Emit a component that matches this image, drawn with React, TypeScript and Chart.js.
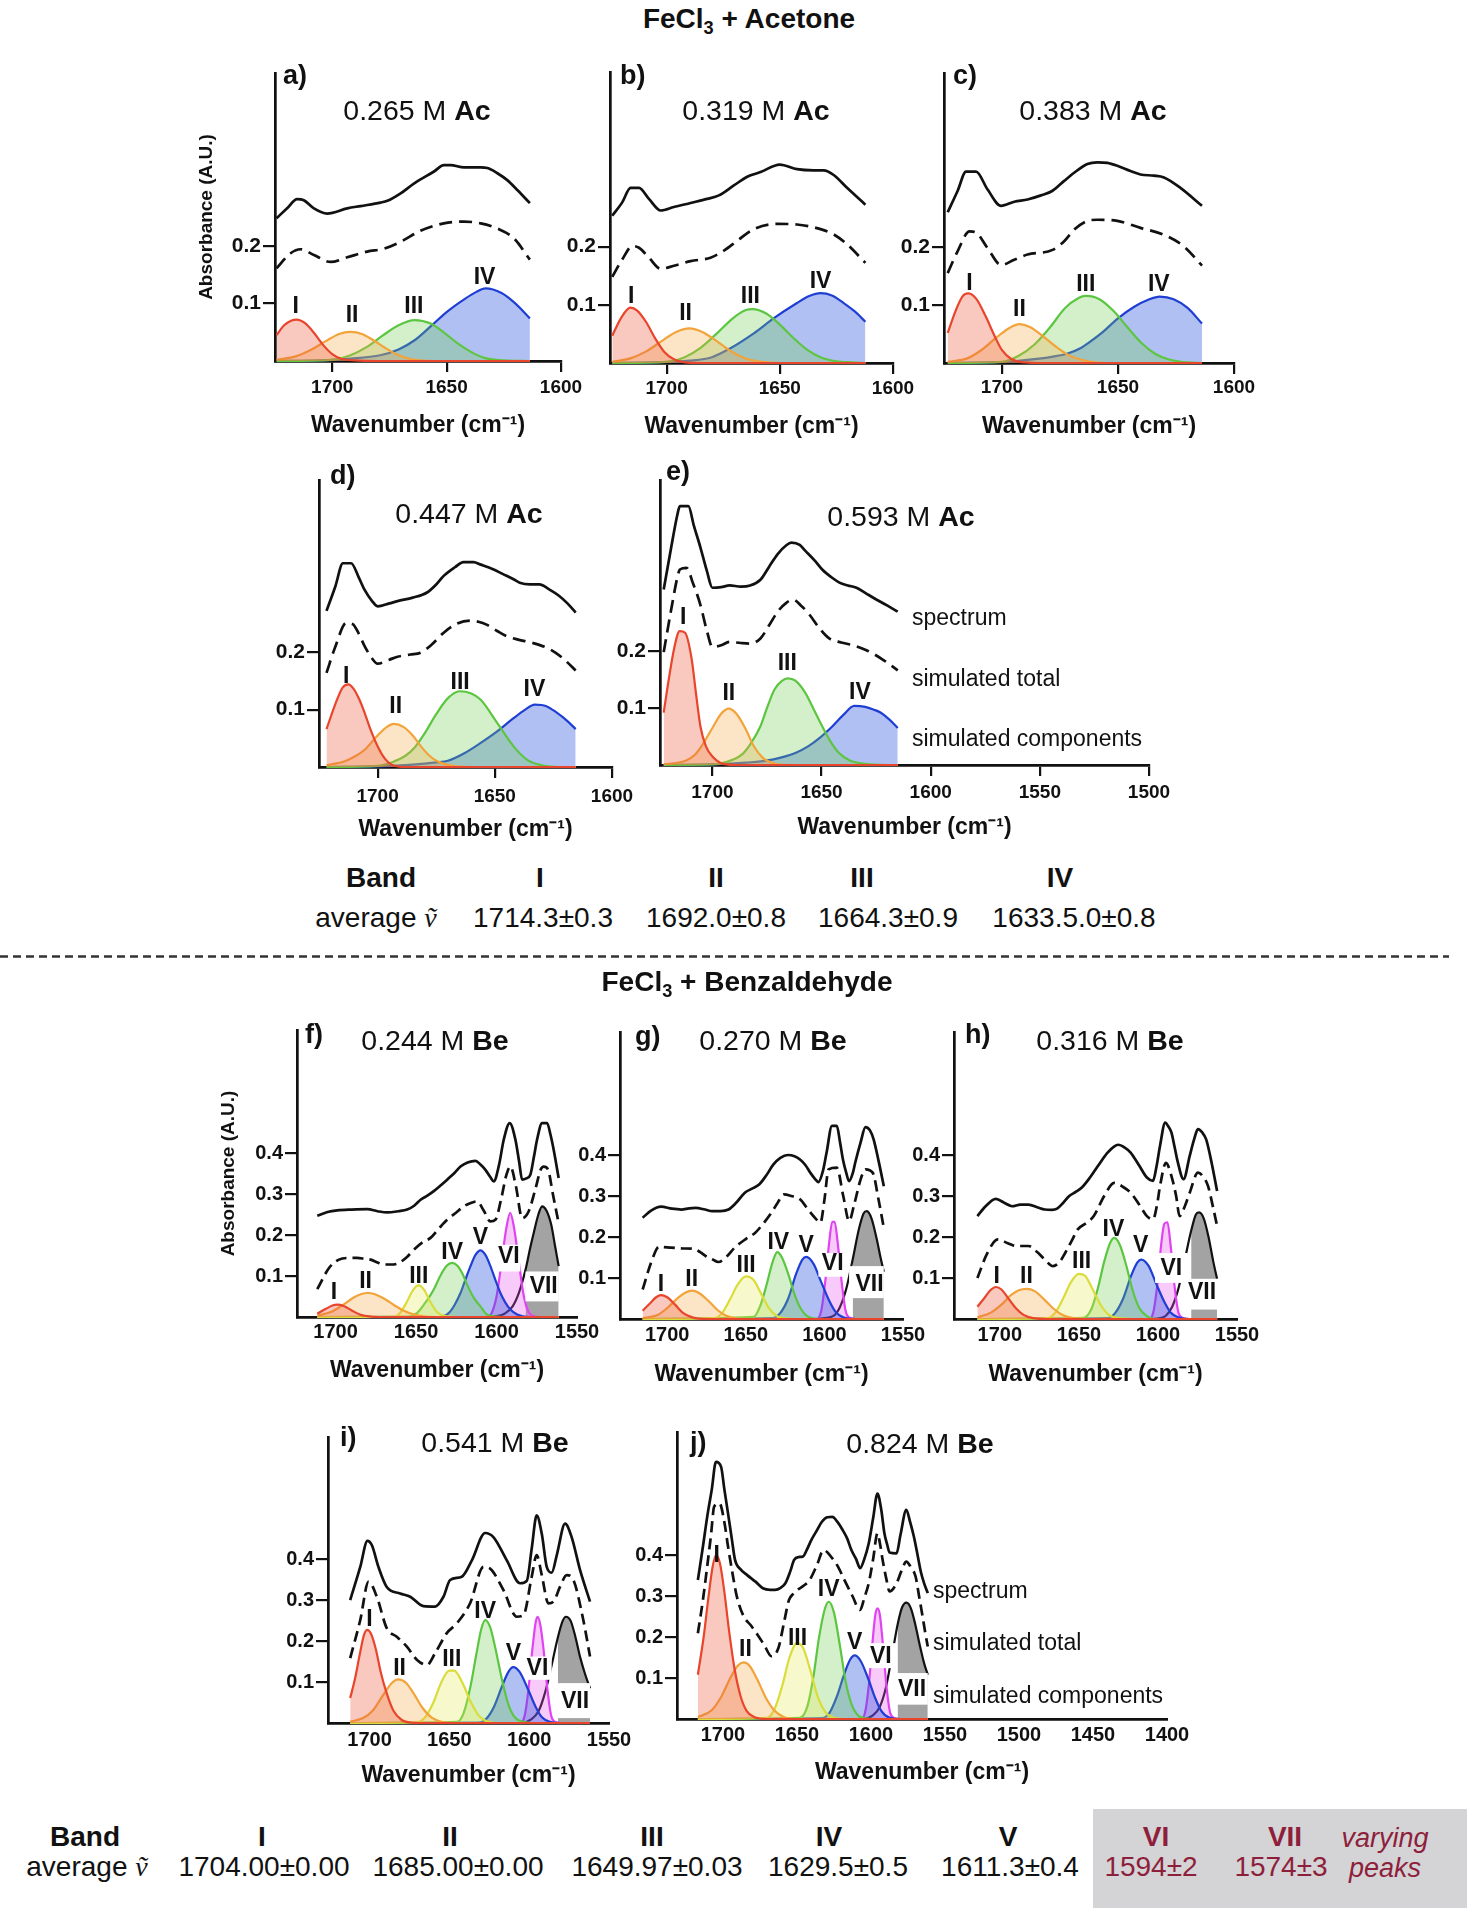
import React, { useEffect, useRef } from "react";
import { Chart, registerables } from "chart.js";

Chart.register(...registerables);

type Pt = [number, number];
type Lbl = [string, number, number, number?, number?, number?, number?];

const FONT = '"Liberation Sans", Arial, Helvetica, sans-serif';

// ---------------- tick values ----------------
const acXTicks = [1700, 1650, 1600];
const eXTicks = [1700, 1650, 1600, 1550, 1500];
const beXTicks = [1700, 1650, 1600, 1550];
const jXTicks = [1700, 1650, 1600, 1550, 1500, 1450, 1400];
const acYTicks = [0.1, 0.2];
const beYTicks = [0.1, 0.2, 0.3, 0.4];

// ---------------- panel a : 0.265 M Ac ----------------
const aSpectrum: Pt[] = [[1724.3,0.248],[1719.7,0.265],[1715.3,0.281],[1712.4,0.279],[1708,0.265],[1702.2,0.256],[1693.4,0.265],[1687.6,0.269],[1678.9,0.275],[1675.9,0.278],[1670.1,0.291],[1664.3,0.308],[1655.5,0.329],[1651.2,0.34],[1648.3,0.34],[1642.4,0.336],[1635.1,0.336],[1632.2,0.335],[1627.8,0.326],[1623.5,0.314],[1619.1,0.297],[1613.6,0.274]];
const aTotal: Pt[] = [[1724.3,0.161],[1718.2,0.187],[1713.8,0.194],[1708,0.184],[1700.7,0.172],[1693.4,0.18],[1684.7,0.19],[1677.4,0.195],[1670.1,0.207],[1661.4,0.226],[1651.2,0.239],[1642.4,0.242],[1635.1,0.239],[1627.8,0.23],[1620.6,0.213],[1613.6,0.176]];
const aI: Pt[] = [[1724.3,0.045],[1721,0.062],[1718,0.07],[1715.5,0.072],[1712,0.066],[1708,0.049],[1704,0.028],[1700,0.012],[1696,0.004],[1690,0.001],[1680,0],[1613.6,0]];
const aII: Pt[] = [[1724.3,0.002],[1716,0.008],[1709,0.02],[1703,0.034],[1697,0.047],[1692,0.0505],[1687,0.047],[1682,0.036],[1677,0.023],[1671,0.01],[1665,0.003],[1655,0],[1613.6,0]];
const aIII: Pt[] = [[1724.3,0],[1700,0.002],[1692,0.01],[1685,0.024],[1678,0.044],[1671,0.062],[1664,0.071],[1657,0.065],[1651,0.049],[1645,0.03],[1639,0.015],[1633,0.005],[1625,0.001],[1613.6,0]];
const aIV: Pt[] = [[1724.3,0],[1705,0.001],[1692,0.004],[1679,0.01],[1671,0.02],[1664,0.036],[1657,0.06],[1650,0.085],[1642,0.108],[1637,0.12],[1633,0.126],[1626,0.118],[1620,0.1],[1613.6,0.074]];
const aLabels: Lbl[] = [["I",1716,0.094],["II",1691.3,0.079],["III",1664.3,0.094],["IV",1633.4,0.145]];

// ---------------- panel b : 0.319 M Ac ----------------
const bSpectrum: Pt[] = [[1724,0.253],[1719.6,0.276],[1715.9,0.301],[1712.2,0.301],[1707.8,0.282],[1702.6,0.262],[1696.8,0.268],[1689.4,0.275],[1682.1,0.282],[1676.9,0.288],[1670.3,0.305],[1664.4,0.32],[1658.5,0.328],[1650,0.341],[1642.4,0.333],[1635,0.331],[1630.6,0.331],[1626.2,0.323],[1620.3,0.301],[1612.2,0.272]];
const bTotal: Pt[] = [[1724,0.148],[1719.6,0.178],[1715.1,0.201],[1712.2,0.198],[1707.8,0.181],[1702.6,0.162],[1696.8,0.167],[1689.4,0.175],[1680.6,0.181],[1674.7,0.193],[1668.8,0.21],[1661.5,0.23],[1651.2,0.239],[1642.4,0.238],[1632,0.23],[1626.2,0.221],[1620.3,0.204],[1612.2,0.172]];
const bI: Pt[] = [[1724,0.047],[1720,0.078],[1716,0.095],[1713,0.09],[1709,0.07],[1705,0.042],[1701,0.019],[1697,0.007],[1692,0.001],[1685,0],[1612.2,0]];
const bII: Pt[] = [[1724,0.002],[1716,0.008],[1709,0.02],[1702,0.038],[1696,0.053],[1690,0.0595],[1684,0.053],[1678,0.038],[1672,0.021],[1666,0.009],[1658,0.002],[1650,0],[1612.2,0]];
const bIII: Pt[] = [[1724,0],[1700,0.002],[1692,0.01],[1685,0.026],[1678,0.05],[1671,0.076],[1665,0.091],[1662,0.0925],[1656,0.085],[1650,0.066],[1644,0.043],[1638,0.023],[1632,0.01],[1625,0.003],[1618,0.001],[1612.2,0]];
const bIV: Pt[] = [[1724,0],[1705,0.001],[1690,0.004],[1680,0.01],[1672,0.025],[1661.5,0.051],[1652.6,0.077],[1642.4,0.103],[1637,0.115],[1632,0.12],[1627,0.116],[1621.8,0.103],[1617,0.089],[1612.2,0.071]];
const bLabels: Lbl[] = [["I",1715.6,0.1145],["II",1691.6,0.0855],["III",1663,0.1145],["IV",1632,0.1405]];

// ---------------- panel c : 0.383 M Ac ----------------
const cSpectrum: Pt[] = [[1723.4,0.26],[1719.1,0.297],[1715.5,0.33],[1711.2,0.33],[1706.2,0.299],[1700.4,0.271],[1694.7,0.278],[1689,0.282],[1683.2,0.289],[1678.2,0.297],[1673.2,0.314],[1668.9,0.328],[1663.2,0.343],[1658.9,0.346],[1654.6,0.345],[1650.3,0.34],[1644.6,0.331],[1640.3,0.325],[1634.5,0.323],[1630.2,0.32],[1623.1,0.302],[1613.8,0.271]];
const cTotal: Pt[] = [[1723.4,0.155],[1719.1,0.193],[1714,0.227],[1711.2,0.225],[1706.2,0.198],[1700.4,0.169],[1694.7,0.178],[1689,0.187],[1678.2,0.195],[1673.2,0.21],[1668.9,0.23],[1663.2,0.245],[1658.9,0.247],[1650.3,0.245],[1640.3,0.233],[1630.2,0.221],[1621.6,0.201],[1613.8,0.168]];
const cI: Pt[] = [[1723.4,0.052],[1720,0.09],[1717,0.115],[1714.5,0.12],[1711,0.11],[1707,0.08],[1703,0.045],[1700,0.022],[1696,0.007],[1690,0.001],[1683,0],[1613.8,0]];
const cII: Pt[] = [[1723.4,0.002],[1715,0.008],[1709,0.022],[1703,0.042],[1697,0.06],[1692.5,0.067],[1688,0.062],[1682,0.045],[1676,0.026],[1670,0.011],[1663,0.003],[1655,0],[1613.8,0]];
const cIII: Pt[] = [[1723.4,0],[1700,0.002],[1693,0.012],[1686,0.032],[1679,0.063],[1673,0.094],[1667,0.112],[1664,0.1156],[1658,0.11],[1652,0.09],[1646,0.062],[1640,0.035],[1634,0.016],[1628,0.006],[1620,0.001],[1613.8,0]];
const cIV: Pt[] = [[1723.4,0],[1705,0.001],[1695,0.003],[1685,0.007],[1678,0.011],[1672,0.016],[1666,0.026],[1663,0.034],[1657,0.052],[1650,0.077],[1643,0.097],[1637,0.109],[1632,0.1145],[1626,0.11],[1620,0.095],[1613.8,0.068]];
const cLabels: Lbl[] = [["I",1714,0.1376],["II",1692.5,0.0913],["III",1663.9,0.1347],["IV",1632.4,0.1347]];

// ---------------- panel d : 0.447 M Ac ----------------
const dSpectrum: Pt[] = [[1721.8,0.272],[1718,0.315],[1714.8,0.355],[1711.3,0.355],[1708,0.33],[1705.6,0.309],[1702.5,0.29],[1700,0.28],[1695,0.285],[1691.5,0.289],[1685,0.295],[1678.9,0.304],[1675,0.318],[1671.8,0.333],[1667,0.348],[1663.4,0.357],[1659,0.357],[1656.3,0.353],[1651,0.345],[1646.5,0.336],[1642,0.327],[1639.4,0.321],[1635,0.318],[1631,0.318],[1627,0.31],[1622.5,0.298],[1619,0.285],[1615.5,0.269]];
const dTotal: Pt[] = [[1721.8,0.164],[1718,0.21],[1713.4,0.251],[1710.6,0.249],[1708,0.232],[1705.6,0.211],[1702.5,0.19],[1700,0.18],[1695,0.187],[1691.5,0.192],[1686,0.196],[1681.7,0.199],[1677,0.213],[1671.8,0.234],[1666,0.25],[1660.6,0.255],[1657,0.253],[1653.5,0.248],[1649,0.237],[1645,0.228],[1640,0.222],[1633.8,0.216],[1628,0.208],[1624,0.199],[1620,0.186],[1615.5,0.168]];
const dI: Pt[] = [[1721.8,0.066],[1718,0.11],[1715,0.138],[1712.5,0.144],[1710,0.135],[1707.5,0.115],[1705.5,0.094],[1703,0.065],[1700,0.036],[1697,0.015],[1694,0.004],[1688,0],[1615.5,0]];
const dII: Pt[] = [[1721.8,0.003],[1714,0.01],[1709,0.02],[1705.5,0.03],[1700,0.055],[1696,0.07],[1693,0.075],[1689,0.07],[1685,0.055],[1681.5,0.036],[1678,0.02],[1674.5,0.01],[1668,0.002],[1660,0],[1615.5,0]];
const dIII: Pt[] = [[1721.8,0],[1700,0.002],[1694,0.008],[1688,0.02],[1684,0.035],[1680,0.058],[1675,0.092],[1670,0.12],[1665,0.132],[1660,0.128],[1656,0.117],[1649,0.077],[1642,0.036],[1636,0.012],[1630,0.003],[1622,0],[1615.5,0]];
const dIV: Pt[] = [[1721.8,0],[1700,0.001],[1685,0.004],[1675,0.008],[1670,0.011],[1663,0.024],[1656,0.042],[1649,0.062],[1642,0.085],[1637,0.1],[1633,0.1087],[1628,0.106],[1624,0.096],[1619,0.08],[1615.5,0.066]];
const dLabels: Lbl[] = [["I",1713.4,0.158],["II",1692.3,0.1058],["III",1664.8,0.1465],["IV",1633.1,0.135]];

// ---------------- panel e : 0.593 M Ac ----------------
const eSpectrum: Pt[] = [[1722.3,0.308],[1718.9,0.381],[1716,0.44],[1714.9,0.454],[1711,0.454],[1708.5,0.42],[1705.5,0.382],[1702.5,0.34],[1700,0.311],[1696,0.312],[1692.1,0.315],[1687,0.313],[1682.7,0.315],[1678,0.325],[1674,0.348],[1670.1,0.37],[1666,0.386],[1663.8,0.39],[1660,0.386],[1657.5,0.376],[1653,0.358],[1649.7,0.343],[1645,0.328],[1641.8,0.32],[1638,0.315],[1634,0.311],[1630,0.302],[1626.1,0.293],[1620,0.28],[1615.1,0.269]];
const eTotal: Pt[] = [[1722.3,0.198],[1719,0.27],[1716,0.33],[1714.9,0.343],[1711.8,0.346],[1709,0.32],[1705.5,0.281],[1702.5,0.235],[1700,0.207],[1696,0.21],[1692.1,0.216],[1687,0.214],[1682.7,0.213],[1678,0.222],[1674,0.245],[1670.1,0.269],[1666,0.285],[1663,0.29],[1659.5,0.28],[1656,0.266],[1651,0.24],[1646.5,0.222],[1641,0.215],[1635.5,0.21],[1629.2,0.201],[1622,0.185],[1615.1,0.166]];
const eI: Pt[] = [[1722.3,0.092],[1720,0.15],[1717.5,0.205],[1715,0.235],[1712.5,0.232],[1709.5,0.186],[1707.5,0.125],[1705.5,0.068],[1703,0.033],[1700,0.015],[1695,0.002],[1688,0],[1615.1,0]];
const eII: Pt[] = [[1722.3,0.001],[1712,0.008],[1708,0.018],[1705.5,0.03],[1700,0.065],[1696,0.09],[1692.5,0.099],[1689,0.09],[1685,0.065],[1681,0.033],[1677,0.013],[1672,0.003],[1665,0],[1615.1,0]];
const eIII: Pt[] = [[1722.3,0],[1700,0.001],[1693,0.006],[1686,0.02],[1682,0.04],[1678,0.068],[1675,0.1],[1671.5,0.133],[1668,0.148],[1665.5,0.152],[1662,0.148],[1657.5,0.127],[1653.5,0.097],[1649.7,0.068],[1646,0.042],[1642,0.021],[1637,0.008],[1630,0.002],[1620,0],[1615.1,0]];
const eIV: Pt[] = [[1722.3,0],[1700,0.001],[1685,0.004],[1672,0.01],[1662,0.021],[1656,0.033],[1651,0.047],[1645,0.068],[1640,0.088],[1635,0.1036],[1630,0.102],[1626,0.097],[1623,0.092],[1619,0.08],[1615.1,0.065]];
const eLabels: Lbl[] = [["I",1713.4,0.2586],["II",1692.5,0.1243],["III",1665.7,0.1775],["IV",1632.4,0.127]];

// ---------------- panel f : 0.244 M Be ----------------
const fSpectrum: Pt[] = [[1711.4,0.247],[1705,0.256],[1699,0.26],[1690,0.262],[1680.3,0.263],[1674,0.258],[1668,0.255],[1661,0.258],[1655.5,0.262],[1651,0.272],[1647.2,0.286],[1643,0.296],[1639,0.307],[1635,0.32],[1630.7,0.335],[1626,0.352],[1622.4,0.367],[1618,0.377],[1613.1,0.381],[1610,0.372],[1606.9,0.359],[1604,0.342],[1601.7,0.331],[1598.5,0.37],[1595.5,0.433],[1591.8,0.473],[1588.3,0.433],[1586,0.38],[1584.1,0.335],[1581.5,0.338],[1579,0.347],[1576.8,0.39],[1574.8,0.433],[1571.7,0.473],[1568.6,0.473],[1566.5,0.445],[1564.5,0.408],[1561.4,0.339]];
const fTotal: Pt[] = [[1711.4,0.068],[1704,0.12],[1697.9,0.14],[1692,0.144],[1686.6,0.144],[1682,0.142],[1678.3,0.14],[1674,0.133],[1670,0.128],[1666,0.128],[1661.7,0.13],[1656,0.145],[1651.4,0.164],[1646,0.182],[1641,0.193],[1636,0.215],[1630.7,0.237],[1625,0.255],[1620.3,0.27],[1616,0.278],[1612.1,0.282],[1608,0.26],[1603.8,0.233],[1600.7,0.237],[1597,0.29],[1594,0.345],[1591.4,0.367],[1588,0.32],[1584.1,0.241],[1580,0.258],[1576,0.31],[1572.5,0.36],[1570.7,0.367],[1568,0.36],[1565,0.3],[1561.4,0.229]];
const fI: Pt[] = [[1711.4,0.008],[1706,0.02],[1702,0.028],[1699,0.03],[1695,0.027],[1690,0.016],[1685,0.006],[1678,0.001],[1670,0],[1561.4,0]];
const fII: Pt[] = [[1711.4,0.003],[1703,0.012],[1696,0.028],[1689,0.047],[1684,0.056],[1680,0.0585],[1676,0.056],[1670,0.045],[1664,0.03],[1658,0.016],[1651,0.006],[1644,0.001],[1635,0],[1561.4,0]];
const fIII: Pt[] = [[1711.4,0],[1665,0],[1660,0.01],[1656,0.035],[1652,0.065],[1648.5,0.077],[1645,0.066],[1641,0.036],[1637,0.012],[1632,0.002],[1625,0],[1561.4,0]];
const fIV: Pt[] = [[1711.4,0],[1655,0.001],[1649.3,0.01],[1643,0.042],[1639,0.067],[1635,0.1],[1631,0.125],[1627.6,0.132],[1624,0.124],[1621,0.104],[1618.3,0.079],[1614,0.046],[1610,0.026],[1606,0.006],[1600,0.001],[1592,0],[1561.4,0]];
const fV: Pt[] = [[1711.4,0],[1635,0],[1629.6,0.01],[1626,0.03],[1622.4,0.0585],[1619,0.095],[1616.2,0.124],[1613,0.152],[1610,0.1626],[1607,0.152],[1603.8,0.124],[1600.5,0.088],[1597.6,0.0585],[1594.5,0.035],[1591.4,0.018],[1587.2,0.006],[1580,0],[1561.4,0]];
const fVI: Pt[] = [[1711.4,0],[1606,0],[1603,0.01],[1600,0.05],[1597,0.13],[1594,0.215],[1591.5,0.254],[1589,0.215],[1586,0.13],[1583,0.05],[1580,0.012],[1577,0.002],[1573,0],[1561.4,0]];
const fVII: Pt[] = [[1711.4,0],[1605,0],[1600,0.002],[1595,0.008],[1590,0.026],[1586,0.06],[1582,0.115],[1579,0.17],[1576.9,0.205],[1574,0.25],[1571.7,0.27],[1569,0.26],[1566,0.225],[1563.5,0.17],[1561.4,0.124]];
const fLabels: Lbl[] = [["I",1701,0.0585],["II",1681.4,0.087],["III",1648.3,0.099],["IV",1627.6,0.156],["V",1610,0.193],["VI",1592.4,0.146,1601.7,1585.2,0.111,0.176],["VII",1570.7,0.073,1582,1561.4,0.038,0.111]];

// ---------------- panel g : 0.270 M Be ----------------
const gSpectrum: Pt[] = [[1715.6,0.247],[1710,0.265],[1703.9,0.274],[1697,0.269],[1690.9,0.267],[1686,0.27],[1681.8,0.271],[1676,0.267],[1671.4,0.263],[1666,0.263],[1661,0.267],[1656,0.284],[1650.6,0.308],[1646,0.318],[1641.5,0.328],[1637,0.35],[1632.4,0.377],[1628,0.393],[1623.3,0.4],[1619,0.397],[1615.5,0.389],[1612,0.375],[1609,0.357],[1606,0.342],[1603.8,0.334],[1601,0.36],[1598.6,0.406],[1595.2,0.471],[1592.1,0.471],[1590,0.43],[1588.2,0.389],[1586,0.355],[1584.3,0.336],[1582,0.355],[1580.4,0.381],[1577,0.43],[1573.9,0.468],[1571,0.46],[1568.7,0.438],[1565.5,0.385],[1562.2,0.324]];
const gTotal: Pt[] = [[1715.6,0.072],[1710,0.14],[1705.2,0.176],[1697.4,0.174],[1690,0.172],[1683.1,0.171],[1679,0.163],[1675.3,0.153],[1671,0.145],[1667.5,0.139],[1662,0.153],[1657.1,0.174],[1650,0.195],[1644.1,0.21],[1639,0.232],[1633.7,0.259],[1629.5,0.285],[1625.9,0.304],[1621,0.3],[1615.5,0.292],[1610,0.265],[1605.1,0.243],[1602.5,0.235],[1600,0.29],[1597.3,0.365],[1592.1,0.369],[1588,0.3],[1584.3,0.239],[1581,0.28],[1577,0.34],[1573.9,0.365],[1569.3,0.357],[1565.5,0.29],[1562.2,0.222]];
const gI: Pt[] = [[1715.6,0.02],[1711,0.038],[1707,0.053],[1704,0.058],[1700,0.053],[1695,0.035],[1690,0.015],[1684,0.004],[1675,0],[1562.2,0]];
const gII: Pt[] = [[1715.6,0.002],[1706,0.01],[1699,0.03],[1693,0.052],[1688,0.065],[1684.5,0.069],[1680,0.064],[1674,0.045],[1668,0.022],[1662,0.007],[1655,0.001],[1645,0],[1562.2,0]];
const gIII: Pt[] = [[1715.6,0],[1670,0.002],[1665,0.015],[1660,0.048],[1655,0.085],[1650,0.104],[1645,0.095],[1640,0.06],[1635,0.025],[1630,0.007],[1624,0.001],[1615,0],[1562.2,0]];
const gIV: Pt[] = [[1715.6,0],[1645,0.005],[1641,0.03],[1637,0.08],[1633,0.138],[1630,0.163],[1627,0.15],[1623,0.11],[1619,0.06],[1615,0.025],[1611,0.007],[1606,0.001],[1600,0],[1562.2,0]];
const gV: Pt[] = [[1715.6,0],[1633,0.002],[1628,0.015],[1623,0.05],[1618,0.11],[1614,0.145],[1611.5,0.1515],[1607,0.135],[1602,0.09],[1597,0.045],[1593,0.018],[1588,0.004],[1580,0],[1562.2,0]];
const gVI: Pt[] = [[1715.6,0],[1605,0],[1602,0.02],[1599.5,0.09],[1597,0.185],[1595,0.237],[1593.5,0.237],[1591.5,0.185],[1589,0.09],[1586.5,0.02],[1584,0.003],[1580,0],[1562.2,0]];
const gVII: Pt[] = [[1715.6,0],[1605,0],[1600,0.002],[1594,0.008],[1590,0.03],[1586,0.075],[1582,0.145],[1578,0.22],[1575,0.258],[1573,0.263],[1570,0.245],[1567,0.2],[1564,0.145],[1562.2,0.115]];
const gLabels: Lbl[] = [["I",1703.9,0.084],["II",1684.4,0.096],["III",1649.8,0.129],["IV",1629.3,0.186],["V",1611.6,0.178],["VI",1594.7,0.134,1603.8,1585.6,0.103,0.161],["VII",1571.3,0.084,1584.3,1562.2,0.051,0.129]];

// ---------------- panel h : 0.316 M Be ----------------
const hSpectrum: Pt[] = [[1714.2,0.251],[1709,0.275],[1702.6,0.293],[1697,0.283],[1692.3,0.275],[1687,0.279],[1681.9,0.279],[1676,0.272],[1671.6,0.267],[1667,0.266],[1663.8,0.269],[1660,0.283],[1656.1,0.3],[1652,0.31],[1648.3,0.32],[1643,0.345],[1638,0.373],[1632,0.405],[1628,0.42],[1625.1,0.425],[1621,0.418],[1617.3,0.406],[1612,0.375],[1607,0.345],[1603.1,0.337],[1601,0.37],[1598.7,0.422],[1595.4,0.479],[1593.5,0.47],[1591.5,0.455],[1589.5,0.42],[1587.6,0.385],[1583.8,0.341],[1579.9,0.398],[1577,0.44],[1574.7,0.463],[1572,0.455],[1569.5,0.438],[1566,0.38],[1562.6,0.312]];
const hTotal: Pt[] = [[1714.2,0.1],[1708,0.16],[1701.3,0.194],[1695,0.185],[1689.7,0.178],[1681.9,0.178],[1676,0.162],[1671.6,0.145],[1666.4,0.129],[1662,0.14],[1658.7,0.161],[1654,0.195],[1650.9,0.218],[1645,0.235],[1640.6,0.251],[1634,0.3],[1627.7,0.332],[1622,0.322],[1617.3,0.308],[1612,0.28],[1607,0.251],[1603.1,0.243],[1600.5,0.28],[1598.7,0.324],[1594.9,0.381],[1591.5,0.349],[1588.5,0.3],[1586.3,0.251],[1583,0.275],[1579.9,0.308],[1574.7,0.357],[1571,0.345],[1568.3,0.324],[1565,0.27],[1562.6,0.227]];
const hI: Pt[] = [[1714.2,0.03],[1710,0.05],[1706,0.07],[1702.5,0.078],[1699,0.072],[1695,0.052],[1690,0.027],[1685,0.01],[1679,0.002],[1670,0],[1562.6,0]];
const hII: Pt[] = [[1714.2,0.004],[1706,0.015],[1699,0.035],[1693,0.058],[1688,0.07],[1683,0.0735],[1678,0.068],[1672,0.048],[1666,0.025],[1660,0.009],[1653,0.002],[1645,0],[1562.6,0]];
const hIII: Pt[] = [[1714.2,0],[1670,0.002],[1665,0.015],[1660,0.05],[1655,0.09],[1650,0.11],[1646,0.105],[1641,0.07],[1636,0.033],[1631,0.01],[1625,0.002],[1615,0],[1562.6,0]];
const hIV: Pt[] = [[1714.2,0],[1647,0.003],[1642,0.025],[1638,0.075],[1634,0.14],[1630,0.188],[1627.5,0.198],[1624,0.18],[1620,0.13],[1616,0.07],[1612,0.028],[1607,0.007],[1600,0],[1562.6,0]];
const hV: Pt[] = [[1714.2,0],[1632,0.002],[1627,0.015],[1622,0.05],[1617,0.105],[1613,0.138],[1610.5,0.145],[1606,0.13],[1601,0.085],[1596,0.042],[1592,0.016],[1587,0.004],[1580,0],[1562.6,0]];
const hVI: Pt[] = [[1714.2,0],[1606,0],[1603,0.015],[1600.5,0.08],[1598,0.18],[1596,0.232],[1594,0.236],[1592,0.18],[1589.5,0.08],[1587,0.015],[1584,0.002],[1580,0],[1562.6,0]];
const hVII: Pt[] = [[1714.2,0],[1605,0],[1600,0.001],[1595,0.008],[1591,0.03],[1587,0.075],[1583,0.145],[1579,0.215],[1576,0.255],[1574,0.26],[1571,0.245],[1568,0.2],[1565,0.14],[1562.6,0.098]];
const hLabels: Lbl[] = [["I",1702,0.104],["II",1683.2,0.104],["III",1648.3,0.141],["IV",1628.2,0.218],["V",1610.9,0.178],["VI",1591.5,0.122,1601.8,1581.2,0.088,0.161],["VII",1572.1,0.0635,1583.8,1561.8,0.023,0.098]];

// ---------------- panel i : 0.541 M Be ----------------
const iSpectrum: Pt[] = [[1712.1,0.301],[1705.8,0.382],[1701.3,0.446],[1698.5,0.435],[1694.4,0.382],[1689.2,0.333],[1680.8,0.317],[1674.5,0.309],[1666.2,0.286],[1658.9,0.285],[1653.7,0.309],[1649.5,0.35],[1642.2,0.358],[1635.9,0.398],[1627.6,0.465],[1622.4,0.455],[1614,0.398],[1605.7,0.342],[1601.5,0.348],[1598.4,0.427],[1595.3,0.508],[1592.1,0.463],[1589,0.382],[1585.9,0.368],[1582.7,0.411],[1577.5,0.488],[1573.4,0.455],[1568.1,0.374],[1561.9,0.297]];
const iTotal: Pt[] = [[1712.1,0.159],[1705.8,0.252],[1700.6,0.346],[1695.4,0.309],[1689.2,0.232],[1682.9,0.211],[1676.6,0.187],[1670.4,0.155],[1664.1,0.142],[1658.9,0.171],[1651.6,0.22],[1645.3,0.244],[1637,0.293],[1628.6,0.382],[1624.5,0.378],[1616.1,0.325],[1607.8,0.26],[1603.6,0.264],[1598.4,0.358],[1595.3,0.411],[1592.1,0.362],[1588,0.293],[1584.8,0.297],[1580.7,0.333],[1576.5,0.362],[1572.3,0.35],[1566.1,0.252],[1561.9,0.163]];
const iI: Pt[] = [[1712.1,0.061],[1709,0.11],[1706,0.17],[1703.5,0.215],[1701.5,0.228],[1699,0.218],[1696,0.18],[1693,0.125],[1689,0.07],[1685,0.03],[1680,0.008],[1674,0.001],[1665,0],[1561.9,0]];
const iII: Pt[] = [[1712.1,0.003],[1704,0.012],[1698,0.03],[1692,0.065],[1686,0.098],[1682,0.107],[1677,0.098],[1672,0.07],[1667,0.038],[1661,0.013],[1655,0.003],[1645,0],[1561.9,0]];
const iIII: Pt[] = [[1712.1,0],[1670,0.002],[1665,0.015],[1660,0.05],[1655,0.1],[1650,0.128],[1647,0.128],[1642,0.1],[1637,0.055],[1632,0.02],[1627,0.005],[1620,0],[1561.9,0]];
const iIV: Pt[] = [[1712.1,0],[1645,0.003],[1641,0.025],[1637,0.085],[1633,0.17],[1630,0.23],[1627.5,0.252],[1624.5,0.235],[1621,0.18],[1617,0.105],[1613,0.045],[1609,0.014],[1604,0.003],[1598,0],[1561.9,0]];
const iV: Pt[] = [[1712.1,0],[1632,0.001],[1627,0.01],[1622,0.04],[1617,0.09],[1613,0.125],[1610,0.1366],[1606,0.125],[1601,0.085],[1596,0.04],[1592,0.014],[1587,0.003],[1580,0],[1561.9,0]];
const iVI: Pt[] = [[1712.1,0],[1606,0],[1603,0.015],[1600.5,0.08],[1598,0.18],[1596,0.245],[1594.8,0.26],[1593,0.24],[1591,0.18],[1588.5,0.08],[1586,0.015],[1583,0.002],[1578,0],[1561.9,0]];
const iVII: Pt[] = [[1712.1,0],[1605,0],[1599,0.008],[1594,0.03],[1590,0.075],[1586,0.14],[1582,0.21],[1579,0.25],[1577,0.26],[1574,0.25],[1571,0.21],[1568,0.16],[1565,0.12],[1561.9,0.085]];
const iLabels: Lbl[] = [["I",1700,0.252],["II",1681.2,0.134],["III",1648.5,0.1545],["IV",1627.6,0.272],["V",1609.9,0.1707],["VI",1594.8,0.134,1601.5,1585.9,0.1057,0.1626],["VII",1571.3,0.053,1582.7,1561.9,0.012,0.0976]];

// ---------------- panel j : 0.824 M Be ----------------
const jSpectrum: Pt[] = [[1716.9,0.339],[1713.5,0.42],[1710.6,0.493],[1707.5,0.56],[1704.7,0.627],[1701.2,0.615],[1699,0.56],[1696.5,0.501],[1694,0.44],[1691.8,0.388],[1688,0.365],[1683.6,0.351],[1678,0.335],[1673,0.319],[1668,0.315],[1664.8,0.315],[1661,0.32],[1657.8,0.331],[1654.5,0.36],[1651.9,0.388],[1649,0.395],[1646,0.396],[1643,0.415],[1640.2,0.437],[1636.5,0.46],[1633.1,0.481],[1629.5,0.492],[1626.1,0.493],[1622.5,0.48],[1619.1,0.461],[1616,0.44],[1613.2,0.412],[1610,0.39],[1607.3,0.368],[1604.5,0.39],[1601.5,0.428],[1598.5,0.49],[1595.6,0.55],[1593,0.51],[1590.9,0.453],[1589,0.425],[1587.4,0.406],[1582.7,0.404],[1580,0.45],[1576.1,0.51],[1573.5,0.48],[1571,0.445],[1568.5,0.4],[1566.3,0.359],[1564,0.33],[1561.6,0.307]];
const jTotal: Pt[] = [[1716.9,0.209],[1713.5,0.29],[1710.6,0.372],[1708,0.45],[1705.9,0.518],[1702.3,0.526],[1699,0.48],[1696.5,0.42],[1693.5,0.355],[1690.6,0.299],[1685.9,0.25],[1681,0.228],[1676.5,0.205],[1672,0.18],[1667.2,0.153],[1662.5,0.173],[1659,0.23],[1655.4,0.29],[1652.5,0.305],[1649.6,0.315],[1645.5,0.325],[1641.4,0.339],[1636.5,0.375],[1632,0.412],[1629,0.405],[1626.1,0.392],[1622,0.37],[1617.9,0.339],[1612.5,0.3],[1607.3,0.266],[1604.5,0.295],[1601.5,0.331],[1598.5,0.39],[1595.6,0.453],[1594,0.43],[1592.1,0.388],[1589.5,0.34],[1587.4,0.311],[1582.7,0.331],[1579.5,0.36],[1576.1,0.384],[1573,0.37],[1569.8,0.347],[1567.5,0.3],[1565.1,0.25],[1563.3,0.21],[1561.6,0.177]];
const jI: Pt[] = [[1716.9,0.108],[1713,0.2],[1710,0.29],[1707,0.37],[1704.7,0.4],[1702,0.38],[1699,0.31],[1696,0.22],[1692,0.12],[1688,0.055],[1684,0.02],[1679,0.005],[1670,0],[1561.6,0]];
const jII: Pt[] = [[1716.9,0.005],[1708,0.02],[1701,0.055],[1695,0.1],[1690,0.13],[1686,0.138],[1682,0.13],[1677,0.098],[1671,0.052],[1665,0.02],[1659,0.005],[1650,0],[1561.6,0]];
const jIII: Pt[] = [[1716.9,0],[1670,0.003],[1665,0.025],[1660,0.08],[1655,0.15],[1650,0.185],[1646,0.175],[1641,0.12],[1636,0.055],[1631,0.018],[1626,0.004],[1618,0],[1561.6,0]];
const jIV: Pt[] = [[1716.9,0],[1648,0.003],[1643,0.03],[1639,0.1],[1635,0.2],[1631,0.27],[1628.5,0.286],[1625,0.26],[1621,0.18],[1617,0.09],[1613,0.035],[1609,0.01],[1603,0.001],[1598,0],[1561.6,0]];
const jV: Pt[] = [[1716.9,0],[1633,0.002],[1628,0.015],[1623,0.055],[1618,0.11],[1614,0.145],[1611,0.155],[1607,0.142],[1602,0.1],[1597,0.05],[1593,0.02],[1588,0.004],[1580,0],[1561.6,0]];
const jVI: Pt[] = [[1716.9,0],[1607,0],[1604,0.015],[1601.5,0.08],[1599,0.185],[1597,0.255],[1595.6,0.27],[1594,0.255],[1592,0.185],[1589.5,0.08],[1587,0.015],[1584,0.002],[1580,0],[1561.6,0]];
const jVII: Pt[] = [[1716.9,0],[1605,0],[1599,0.008],[1594,0.03],[1590,0.075],[1586,0.15],[1582,0.23],[1579,0.272],[1576,0.284],[1573,0.27],[1570,0.23],[1567,0.18],[1564,0.135],[1561.6,0.108]];
const jLabels: Lbl[] = [["I",1704.2,0.398],["II",1684.8,0.169],["III",1649.6,0.197],["IV",1628.5,0.315],["V",1610.9,0.185],["VI",1593.3,0.152,1602.6,1582.7,0.124,0.185],["VII",1572.2,0.0714,1582.7,1561.6,0.035,0.112]];

// ---------------- tables ----------------
const acBands = ["I", "II", "III", "IV"];
const acAverages = ["1714.3±0.3", "1692.0±0.8", "1664.3±0.9", "1633.5.0±0.8"];
const beBands = ["I", "II", "III", "IV", "V", "VI", "VII"];
const beAverages = ["1704.00±0.00", "1685.00±0.00", "1649.97±0.03", "1629.5±0.5", "1611.3±0.4", "1594±2", "1574±3"];

// ---------------- styling ----------------
const C_RED = { line: "#e8452c", fill: "rgba(236,90,60,0.33)" };
const C_ORANGE = { line: "#f2a33a", fill: "rgba(246,170,70,0.3)" };
const C_YELLOW = { line: "#d9dc3a", fill: "rgba(232,232,90,0.3)" };
const C_GREEN = { line: "#5cc641", fill: "rgba(110,205,80,0.3)" };
const C_BLUE = { line: "#1f3fd4", fill: "rgba(40,80,220,0.36)" };
const C_MAG = { line: "#e044f2", fill: "rgba(228,80,240,0.3)" };
const C_GRAY = { line: "#111111", fill: "rgba(0,0,0,0.36)" };

interface Comp { data: Pt[]; c: { line: string; fill: string }; cut?: number }
interface PanelCfg {
  axL: number; axT: number; axR: number; axB: number;
  xL: number; xR: number; yMax: number;
  xTicks: number[]; yTicks: number[];
  spectrum: Pt[]; total: Pt[]; comps: Comp[]; labels: Lbl[];
  be: boolean; yTitle: boolean; tickOff: number; titleOff: number;
}

const acComps = (I: Pt[], II: Pt[], III: Pt[], IV: Pt[]): Comp[] => [
  { data: I, c: C_RED }, { data: II, c: C_ORANGE }, { data: III, c: C_GREEN }, { data: IV, c: C_BLUE },
];
const beComps = (I: Pt[], II: Pt[], III: Pt[], IV: Pt[], V: Pt[], VI: Pt[], VII: Pt[], cut: number): Comp[] => [
  { data: I, c: C_RED }, { data: II, c: C_ORANGE }, { data: III, c: C_YELLOW }, { data: IV, c: C_GREEN },
  { data: V, c: C_BLUE }, { data: VI, c: C_MAG }, { data: VII, c: C_GRAY, cut },
];

const panels: PanelCfg[] = [
  { axL: 275, axT: 73, axR: 561, axB: 361, xL: 1725, xR: 1600, yMax: 0.5, xTicks: acXTicks, yTicks: acYTicks, spectrum: aSpectrum, total: aTotal, comps: acComps(aI, aII, aIII, aIV), labels: aLabels, be: false, yTitle: true, tickOff: 27, titleOff: 65 },
  { axL: 610, axT: 72, axR: 893, axB: 363, xL: 1725, xR: 1600, yMax: 0.5, xTicks: acXTicks, yTicks: acYTicks, spectrum: bSpectrum, total: bTotal, comps: acComps(bI, bII, bIII, bIV), labels: bLabels, be: false, yTitle: false, tickOff: 26, titleOff: 64 },
  { axL: 944, axT: 73, axR: 1234, axB: 363, xL: 1725, xR: 1600, yMax: 0.5, xTicks: acXTicks, yTicks: acYTicks, spectrum: cSpectrum, total: cTotal, comps: acComps(cI, cII, cIII, cIV), labels: cLabels, be: false, yTitle: false, tickOff: 25, titleOff: 64 },
  { axL: 319, axT: 480, axR: 612, axB: 767, xL: 1725, xR: 1600, yMax: 0.5, xTicks: acXTicks, yTicks: acYTicks, spectrum: dSpectrum, total: dTotal, comps: acComps(dI, dII, dIII, dIV), labels: dLabels, be: false, yTitle: false, tickOff: 30, titleOff: 63 },
  { axL: 660, axT: 480, axR: 1149, axB: 765, xL: 1724, xR: 1500, yMax: 0.5, xTicks: eXTicks, yTicks: acYTicks, spectrum: eSpectrum, total: eTotal, comps: acComps(eI, eII, eIII, eIV), labels: eLabels, be: false, yTitle: false, tickOff: 28, titleOff: 63 },
  { axL: 297, axT: 1030, axR: 577, axB: 1317, xL: 1724, xR: 1550, yMax: 0.7, xTicks: beXTicks, yTicks: beYTicks, spectrum: fSpectrum, total: fTotal, comps: beComps(fI, fII, fIII, fIV, fV, fVI, fVII, 1582), labels: fLabels, be: true, yTitle: true, tickOff: 15, titleOff: 54 },
  { axL: 620, axT: 1032, axR: 903, axB: 1319, xL: 1730, xR: 1550, yMax: 0.7, xTicks: beXTicks, yTicks: beYTicks, spectrum: gSpectrum, total: gTotal, comps: beComps(gI, gII, gIII, gIV, gV, gVI, gVII, 1582), labels: gLabels, be: true, yTitle: false, tickOff: 16, titleOff: 56 },
  { axL: 954, axT: 1032, axR: 1237, axB: 1319, xL: 1729, xR: 1550, yMax: 0.7, xTicks: beXTicks, yTicks: beYTicks, spectrum: hSpectrum, total: hTotal, comps: beComps(hI, hII, hIII, hIV, hV, hVI, hVII, 1581), labels: hLabels, be: true, yTitle: false, tickOff: 16, titleOff: 56 },
  { axL: 328, axT: 1437, axR: 609, axB: 1723, xL: 1726, xR: 1550, yMax: 0.7, xTicks: beXTicks, yTicks: beYTicks, spectrum: iSpectrum, total: iTotal, comps: beComps(iI, iII, iIII, iIV, iV, iVI, iVII, 1583), labels: iLabels, be: true, yTitle: false, tickOff: 17, titleOff: 53 },
  { axL: 677, axT: 1432, axR: 1167, axB: 1719, xL: 1731, xR: 1400, yMax: 0.7, xTicks: jXTicks, yTicks: beYTicks, spectrum: jSpectrum, total: jTotal, comps: beComps(jI, jII, jIII, jIV, jV, jVI, jVII, 1585), labels: jLabels, be: true, yTitle: false, tickOff: 16, titleOff: 54 },
];

const toXY = (a: Pt[]) => a.map(([x, y]) => ({ x, y }));

const YW = 100, PT = 18, PR = 36, XH = 95;

function SpectrumPanel({ p }: { p: PanelCfg }) {
  const ref = useRef<HTMLCanvasElement | null>(null);
  const w = p.axR - p.axL + YW + PR;
  const h = p.axB - p.axT + PT + XH;
  useEffect(() => {
    const canvas = ref.current;
    if (!canvas) return;
    const base = { pointRadius: 0, cubicInterpolationMode: "monotone", clip: false };
    const datasets: any[] = [
      { ...base, data: toXY(p.spectrum), borderColor: "#111", borderWidth: 2.7, fill: false },
      { ...base, data: toXY(p.total), borderColor: "#111", borderWidth: 2.7, borderDash: p.be ? [11, 6] : [13, 7], fill: false },
    ];
    p.comps.forEach((c) => {
      if (c.cut !== undefined) {
        const cut = c.cut;
        datasets.push({ ...base, data: toXY(c.data), borderColor: c.c.line, borderWidth: 2.2, fill: false });
        datasets.push({ ...base, data: toXY(c.data.filter(([x]) => x <= cut)), borderColor: "rgba(0,0,0,0)", borderWidth: 0, backgroundColor: c.c.fill, fill: "origin" });
      } else {
        datasets.push({ ...base, data: toXY(c.data), borderColor: c.c.line, borderWidth: 2.2, backgroundColor: c.c.fill, fill: "origin" });
      }
    });
    const labelSize = 23;
    const labelPlugin = {
      id: "bandLabels",
      afterDatasetsDraw(chart: any) {
        const { ctx } = chart;
        const xs = chart.scales.x, ys = chart.scales.y;
        ctx.save();
        p.labels.forEach((l) => {
          const [t, x, y, bx1, bx2, by1, by2] = l;
          if (bx1 !== undefined && bx2 !== undefined && by1 !== undefined && by2 !== undefined) {
            const px1 = xs.getPixelForValue(bx1), px2 = xs.getPixelForValue(bx2);
            const py1 = ys.getPixelForValue(by1), py2 = ys.getPixelForValue(by2);
            ctx.fillStyle = "#ffffff";
            ctx.fillRect(Math.min(px1, px2), Math.min(py1, py2), Math.abs(px2 - px1), Math.abs(py2 - py1));
          }
          ctx.fillStyle = "#111";
          ctx.font = `bold ${labelSize}px ${FONT}`;
          ctx.textAlign = "center";
          ctx.textBaseline = "middle";
          ctx.fillText(t, xs.getPixelForValue(x), ys.getPixelForValue(y));
        });
        ctx.restore();
      },
    };
    const xTickFont = p.be ? 20 : 19;
    const xTickLen = p.be ? 0 : 11;
    const xPad = p.tickOff - xTickLen - (xTickFont * 1.2) / 2;
    const titleLH = 23 * 1.2;
    const chart = new Chart(canvas, {
      type: "line",
      data: { datasets },
      plugins: [labelPlugin],
      options: {
        animation: false,
        responsive: false,
        maintainAspectRatio: false,
        devicePixelRatio: 1,
        events: [],
        layout: { padding: { left: 0, top: PT, right: PR, bottom: 0 } },
        plugins: { legend: { display: false }, tooltip: { enabled: false }, title: { display: false } },
        scales: {
          x: {
            type: "linear",
            min: p.xR,
            max: p.xL,
            reverse: true,
            afterFit: (s: any) => { s.height = XH; },
            afterBuildTicks: (s: any) => { s.ticks = p.xTicks.map((v) => ({ value: v })); },
            ticks: {
              autoSkip: false, maxRotation: 0, minRotation: 0, padding: xPad, color: "#111",
              font: { family: FONT, size: xTickFont, weight: "bold" },
              callback: (v: any) => String(v),
            },
            grid: p.be
              ? { display: false, drawTicks: false, tickLength: 0 }
              : { display: true, drawOnChartArea: false, drawTicks: true, tickLength: xTickLen, color: "#111", lineWidth: 2.2 },
            border: { display: true, color: "#111", width: 2.7 },
            title: {
              display: true, text: "Wavenumber (cm⁻¹)", color: "#111",
              font: { family: FONT, size: 23, weight: "bold" },
              padding: { top: 0, bottom: XH - titleLH / 2 - p.titleOff },
            },
          },
          y: {
            type: "linear",
            min: 0,
            max: p.yMax,
            afterFit: (s: any) => { s.width = YW; },
            afterBuildTicks: (s: any) => { s.ticks = p.yTicks.map((v) => ({ value: v })); },
            ticks: {
              padding: 2, color: "#111",
              font: { family: FONT, size: p.be ? 20 : 21, weight: "bold" },
              callback: (v: any) => Number(v).toFixed(1),
            },
            grid: { display: true, drawOnChartArea: false, drawTicks: true, tickLength: 12, color: "#111", lineWidth: 2.2 },
            border: { display: true, color: "#111", width: 2.7 },
            title: {
              display: p.yTitle, text: "Absorbance (A.U.)", color: "#111",
              font: { family: FONT, size: 19, weight: "bold" },
              padding: { top: 20, bottom: 0 },
            },
          },
        },
      } as any,
    });
    return () => chart.destroy();
  }, [p]);
  return (
    <canvas
      ref={ref}
      width={w}
      height={h}
      style={{ position: "absolute", left: p.axL - YW, top: p.axT - PT, width: w, height: h }}
    />
  );
}

type TextItem = { x: number; y: number; node: React.ReactNode; size: number; bold?: boolean; align?: "center" | "left"; color?: string; italic?: boolean };

const nu = <span style={{ fontFamily: '"Liberation Serif", "DejaVu Serif", serif', fontStyle: "italic" }}>ṽ</span>;

const panelTitles: [number, number, string, string][] = [
  [417, 110, "0.265", "Ac"], [756, 110, "0.319", "Ac"], [1093, 110, "0.383", "Ac"],
  [469, 513, "0.447", "Ac"], [901, 516, "0.593", "Ac"],
  [435, 1040, "0.244", "Be"], [773, 1040, "0.270", "Be"], [1110, 1040, "0.316", "Be"],
  [495, 1442, "0.541", "Be"], [920, 1443, "0.824", "Be"],
];
const panelLetters: [number, number, string][] = [
  [283, 75, "a)"], [620, 75, "b)"], [953, 75, "c)"], [330, 475, "d)"], [666, 471, "e)"],
  [305, 1034, "f)"], [635, 1036, "g)"], [965, 1034, "h)"], [340, 1437, "i)"], [690, 1442, "j)"],
];
const acBandX = [540, 716, 862, 1060];
const acAvgX = [543, 716, 888, 1074];
const beBandX = [262, 450, 652, 829, 1008, 1156, 1285];
const beAvgX = [264, 458, 657, 838, 1010, 1151, 1281];
const RED_TXT = "#8e1f3b";

export default function App() {
  const texts: TextItem[] = [];
  texts.push({ x: 749, y: 21, size: 28, bold: true, node: <>FeCl<sub style={{ fontSize: "0.65em", verticalAlign: "-0.3em" }}>3</sub> + Acetone</> });
  texts.push({ x: 747, y: 984, size: 28, bold: true, node: <>FeCl<sub style={{ fontSize: "0.65em", verticalAlign: "-0.3em" }}>3</sub> + Benzaldehyde</> });
  panelTitles.forEach(([x, y, c, s]) => texts.push({ x, y, size: 28.5, node: <>{c} M <b>{s}</b></> }));
  panelLetters.forEach(([x, y, s]) => texts.push({ x, y, size: 27, bold: true, align: "left", node: s }));
  [["spectrum", 617], ["simulated total", 678], ["simulated components", 738]].forEach(([s, y]) =>
    texts.push({ x: 912, y: y as number, size: 23, align: "left", node: s as string }));
  [["spectrum", 1590], ["simulated total", 1642], ["simulated components", 1695]].forEach(([s, y]) =>
    texts.push({ x: 933, y: y as number, size: 23, align: "left", node: s as string }));
  // acetone table
  texts.push({ x: 381, y: 878, size: 28, bold: true, node: "Band" });
  acBands.forEach((b, i) => texts.push({ x: acBandX[i], y: 878, size: 28, bold: true, node: b }));
  texts.push({ x: 376, y: 918, size: 28, node: <>average {nu}</> });
  acAverages.forEach((s, i) => texts.push({ x: acAvgX[i], y: 918, size: 28, node: s }));
  // benzaldehyde table
  texts.push({ x: 85, y: 1837, size: 28, bold: true, node: "Band" });
  beBands.forEach((b, i) => texts.push({ x: beBandX[i], y: 1837, size: 28, bold: true, node: b, color: i >= 5 ? RED_TXT : "#111" }));
  texts.push({ x: 87, y: 1867, size: 28, node: <>average {nu}</> });
  beAverages.forEach((s, i) => texts.push({ x: beAvgX[i], y: 1867, size: 28, node: s, color: i >= 5 ? RED_TXT : "#111" }));
  texts.push({ x: 1385, y: 1838, size: 27, italic: true, node: "varying", color: RED_TXT });
  texts.push({ x: 1385, y: 1868, size: 27, italic: true, node: "peaks", color: RED_TXT });

  return (
    <div style={{ position: "absolute", left: 0, top: 0, width: 1477, height: 1920, background: "#fff", overflow: "hidden", fontFamily: FONT, color: "#111" }}>
      <div style={{ position: "absolute", left: 1093, top: 1809, width: 374, height: 99, background: "#d4d3d6" }} />
      <svg style={{ position: "absolute", left: 0, top: 950 }} width={1477} height={14}>
        <line x1={0} y1={6.5} x2={1449} y2={6.5} stroke="#333" strokeWidth={2.5} strokeDasharray="8 5" />
      </svg>
      {panels.map((p, i) => <SpectrumPanel key={i} p={p} />)}
      {texts.map((t, i) => (
        <div
          key={"t" + i}
          style={{
            position: "absolute", left: t.x, top: t.y, whiteSpace: "nowrap", lineHeight: 1,
            transform: t.align === "left" ? "translate(0,-50%)" : "translate(-50%,-50%)",
            fontSize: t.size, fontWeight: t.bold ? "bold" : "normal", fontStyle: t.italic ? "italic" : "normal",
            color: t.color || "#111",
          }}
        >
          {t.node}
        </div>
      ))}
    </div>
  );
}
